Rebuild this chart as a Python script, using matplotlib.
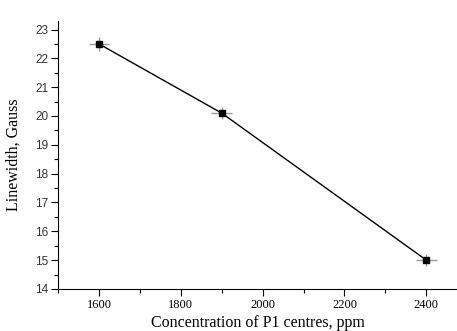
import matplotlib.pyplot as plt
from matplotlib.ticker import MultipleLocator

conc = [1600, 1900, 2400]
linewidth = [22.5, 20.1, 15.0]
conc_err = [25, 25, 25]
lw_err = [0.25, 0.2, 0.2]

serif = {'family': 'Liberation Serif', 'size': 11.5}

fig = plt.figure(figsize=(4.57, 3.31), dpi=100)
ax = fig.add_axes([0.127, 0.127, 0.873, 0.81])

ax.errorbar(conc, linewidth, xerr=conc_err, yerr=lw_err, fmt='none',
            ecolor='#999999', elinewidth=1, capsize=0, zorder=1)
ax.plot(conc, linewidth, color='black', linewidth=1, marker='s', ms=5,
        mfc='black', mec='black', zorder=2)

ax.set_xlim(1500, 2475)
ax.set_ylim(14, 23.3)
ax.xaxis.set_major_locator(MultipleLocator(200))
ax.xaxis.set_minor_locator(MultipleLocator(100))
ax.yaxis.set_major_locator(MultipleLocator(1))
ax.yaxis.set_minor_locator(MultipleLocator(0.5))

ax.spines['top'].set_visible(False)
ax.spines['right'].set_visible(False)
ax.tick_params(which='major', length=5, width=0.8)
ax.tick_params(which='minor', length=3, width=0.8)
ax.tick_params(axis='x', pad=2)
ax.tick_params(axis='y', labelsize=8.5, labelcolor='#333333', pad=2)
for lab in ax.get_xticklabels():
    lab.set_fontfamily('Liberation Serif')
    lab.set_fontsize(9)
for lab in ax.get_yticklabels():
    lab.set_fontfamily('Liberation Sans')

ax.set_xlabel("Concentration of P1 centres, ppm", serif, labelpad=3)
ax.set_ylabel("Linewidth, Gauss", serif, labelpad=10)

plt.savefig('out.png', dpi=100)
plt.close()
